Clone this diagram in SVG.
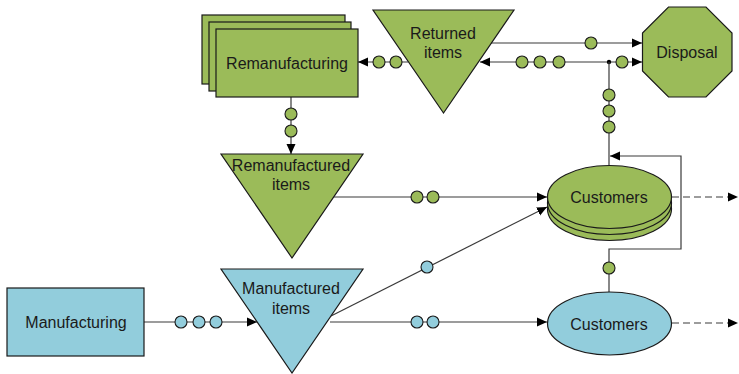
<svg xmlns="http://www.w3.org/2000/svg" width="739" height="374" viewBox="0 0 739 374">
  <defs>
    <marker id="arrow" viewBox="0 0 10 10" refX="10" refY="5" markerWidth="10" markerHeight="10" markerUnits="userSpaceOnUse" orient="auto">
      <path d="M0,0.5 L10,5 L0,9.5 Z" fill="#000"/>
    </marker>
  </defs>
  <style>
    .green { fill: #9bbb59; stroke: #1a1a1a; stroke-width: 1.2; }
    .blue { fill: #92cddc; stroke: #1a1a1a; stroke-width: 1.2; }
    .label { font-family: "Liberation Sans", Arial, sans-serif; font-size: 16px; fill: #1a1a1a; text-anchor: middle; dominant-baseline: central; }
    .conn { fill: none; stroke: #3a3a3a; stroke-width: 1.2; }
    .arr { marker-end: url(#arrow); }
    .dash { stroke-dasharray: 7 4; }
    .dot-g { fill: #9bbb59; stroke: #1a1a1a; stroke-width: 1.1; }
    .dot-b { fill: #92cddc; stroke: #1a1a1a; stroke-width: 1.1; }
  </style>

  <!-- connectors -->
  <g id="connectors">
    <!-- returned items -> disposal -->
    <line class="conn arr" x1="491" y1="43" x2="642" y2="43"/>
    <!-- junction -> returned items -->
    <line class="conn arr" x1="609" y1="62" x2="480" y2="62"/>
    <!-- junction -> disposal -->
    <line class="conn arr" x1="609" y1="62" x2="642" y2="62"/>
    <circle cx="609" cy="62" r="2.2" fill="#000"/>
    <!-- green customers -> junction -->
    <line class="conn" x1="609" y1="165" x2="609" y2="62"/>
    <!-- returned items -> remanufacturing -->
    <line class="conn arr" x1="408" y1="62" x2="358" y2="62"/>
    <!-- remanufacturing -> remanufactured items -->
    <line class="conn arr" x1="291" y1="97" x2="291" y2="154"/>
    <!-- remanufactured items -> green customers -->
    <line class="conn arr" x1="333" y1="197" x2="547" y2="197"/>
    <!-- manufacturing -> manufactured items -->
    <line class="conn arr" x1="144" y1="322" x2="257" y2="322"/>
    <!-- manufactured items -> customers -->
    <line class="conn arr" x1="330" y1="322" x2="547" y2="322"/>
    <line class="conn arr" x1="331" y1="316" x2="547" y2="207"/>
    <!-- blue customers -> green customers loop -->
    <polyline class="conn arr" points="609,292 609,249 681,249 681,156 610,156"/>
    <!-- outflows -->
    <line class="conn arr dash" x1="672" y1="197" x2="738" y2="197"/>
    <line class="conn arr dash" x1="672" y1="323" x2="738" y2="323"/>

    <!-- flow markers -->
    <circle class="dot-g" cx="591" cy="43" r="6"/>
    <circle class="dot-g" cx="522" cy="62" r="6"/>
    <circle class="dot-g" cx="540" cy="62" r="6"/>
    <circle class="dot-g" cx="559" cy="62" r="6"/>
    <circle class="dot-g" cx="622" cy="62" r="6"/>
    <circle class="dot-g" cx="609" cy="95" r="6"/>
    <circle class="dot-g" cx="609" cy="111" r="6"/>
    <circle class="dot-g" cx="609" cy="127" r="6"/>
    <circle class="dot-g" cx="379" cy="62" r="6"/>
    <circle class="dot-g" cx="396" cy="62" r="6"/>
    <circle class="dot-g" cx="291" cy="114" r="6"/>
    <circle class="dot-g" cx="291" cy="131" r="6"/>
    <circle class="dot-g" cx="417" cy="197" r="6"/>
    <circle class="dot-g" cx="433" cy="197" r="6"/>
    <circle class="dot-g" cx="609" cy="268" r="6"/>
    <circle class="dot-b" cx="181" cy="322" r="6"/>
    <circle class="dot-b" cx="199" cy="322" r="6"/>
    <circle class="dot-b" cx="216" cy="322" r="6"/>
    <circle class="dot-b" cx="417" cy="322" r="6"/>
    <circle class="dot-b" cx="433" cy="322" r="6"/>
    <circle class="dot-b" cx="427" cy="267" r="6"/>
  </g>

  <!-- nodes -->
  <g id="remanufacturing">
    <rect class="green" x="202" y="15" width="143" height="69"/>
    <rect class="green" x="209" y="22" width="142" height="69"/>
    <rect class="green" x="216" y="29" width="142" height="68"/>
    <text class="label" x="287" y="63">Remanufacturing</text>
  </g>

  <g id="returned-items">
    <polygon class="green" points="373,10 514,10 443.5,113"/>
    <text class="label" x="443" y="33">Returned</text>
    <text class="label" x="443" y="52">items</text>
  </g>

  <g id="disposal">
    <polygon class="green" points="668.5,7 706,7 732,33 732,71 706,97 668.5,97 642.5,71 642.5,33"/>
    <text class="label" x="687" y="52">Disposal</text>
  </g>

  <g id="remanufactured-items">
    <polygon class="green" points="221,154 363,154 292,258"/>
    <text class="label" x="291" y="165">Remanufactured</text>
    <text class="label" x="291" y="184">items</text>
  </g>

  <g id="customers-green">
    <ellipse class="green" cx="609.5" cy="209" rx="62" ry="31.5"/>
    <ellipse class="green" cx="609.5" cy="203" rx="62" ry="31.5"/>
    <ellipse class="green" cx="609.5" cy="197" rx="62" ry="31.5"/>
    <text class="label" x="609" y="197">Customers</text>
  </g>

  <g id="manufacturing">
    <rect class="blue" x="7" y="288" width="137" height="68"/>
    <text class="label" x="76" y="322">Manufacturing</text>
  </g>

  <g id="manufactured-items">
    <polygon class="blue" points="221,269 363,269 292,373"/>
    <text class="label" x="291" y="288">Manufactured</text>
    <text class="label" x="291" y="308">items</text>
  </g>

  <g id="customers-blue">
    <ellipse class="blue" cx="609.5" cy="323.5" rx="62" ry="31.5"/>
    <text class="label" x="609" y="324">Customers</text>
  </g>
</svg>
